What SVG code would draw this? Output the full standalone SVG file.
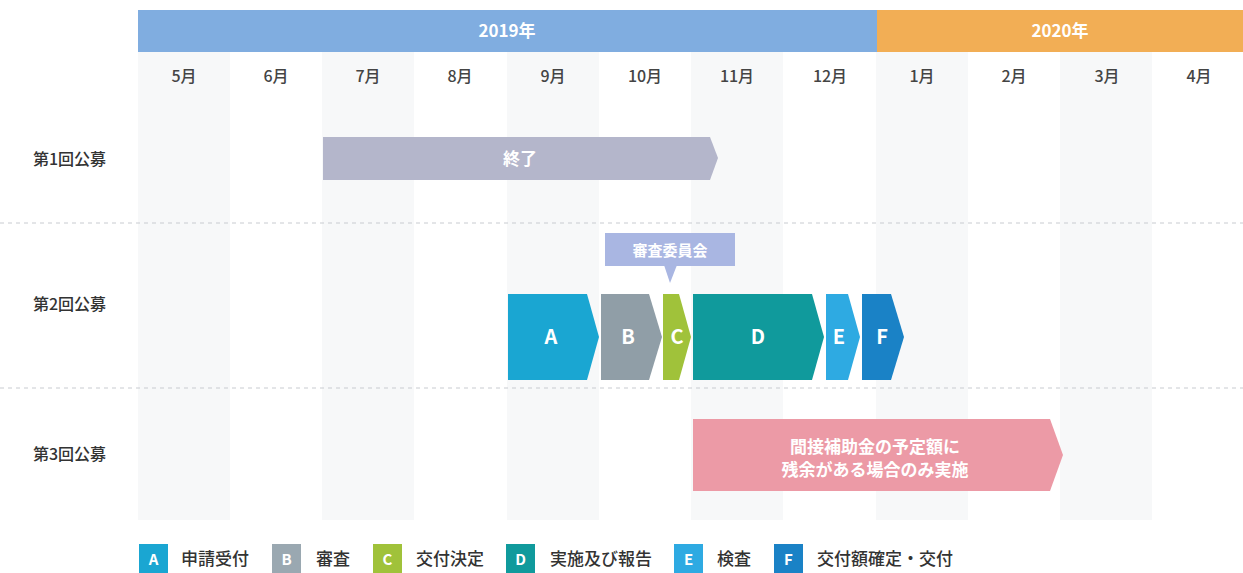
<svg xmlns="http://www.w3.org/2000/svg" width="1243" height="573" viewBox="0 0 1243 573">
<style>
text{font-family:"Noto Sans CJK JP","Noto Sans",sans-serif}
.yr{fill:#fff;font-size:17px;font-weight:700;text-anchor:middle}
.mo{fill:#444;font-size:16px;font-weight:500;text-anchor:middle}
.row{fill:#333;font-size:16px;font-weight:500}
.wl{fill:#fff;font-weight:700;text-anchor:middle}
.lg{fill:#333;font-size:17px;font-weight:500}
.lk{fill:#fff;font-size:15px;font-weight:700;text-anchor:middle}
.shade{fill:#f7f8f9}
.sep{stroke:#c8cbd0;stroke-width:1;stroke-dasharray:4 4}
</style>
<rect width="1243" height="573" fill="#fff"/>
<g id="columns">
<rect class="shade" x="138" y="52" width="92" height="468"/>
<rect class="shade" x="322" y="52" width="92" height="468"/>
<rect class="shade" x="507" y="52" width="92" height="468"/>
<rect class="shade" x="691" y="52" width="92" height="468"/>
<rect class="shade" x="876" y="52" width="92" height="468"/>
<rect class="shade" x="1060" y="52" width="92" height="468"/>
</g>
<g id="years">
<rect x="138" y="10" width="739" height="42" fill="#80ade0"/>
<rect x="877" y="10" width="366" height="42" fill="#f2ae55"/>
<text class="yr" x="507" y="37">2019年</text>
<text class="yr" x="1060" y="37">2020年</text>
</g>
<g id="months">
<text class="mo" x="184" y="82">5月</text>
<text class="mo" x="276" y="82">6月</text>
<text class="mo" x="368" y="82">7月</text>
<text class="mo" x="460" y="82">8月</text>
<text class="mo" x="553" y="82">9月</text>
<text class="mo" x="645" y="82">10月</text>
<text class="mo" x="737" y="82">11月</text>
<text class="mo" x="830" y="82">12月</text>
<text class="mo" x="922" y="82">1月</text>
<text class="mo" x="1014" y="82">2月</text>
<text class="mo" x="1107" y="82">3月</text>
<text class="mo" x="1199" y="82">4月</text>
</g>
<g id="separators">
<line class="sep" x1="0" y1="223" x2="1243" y2="223"/>
<line class="sep" x1="0" y1="388" x2="1243" y2="388"/>
</g>
<g id="row-labels">
<text class="row" x="33" y="165">第1回公募</text>
<text class="row" x="33" y="310">第2回公募</text>
<text class="row" x="33" y="460">第3回公募</text>
</g>
<g id="round1">
<polygon points="323,137 710,137 718,158 710,180 323,180" fill="#b4b6cb"/>
<text class="wl" x="520" y="165" font-size="17">終了</text>
</g>
<g id="callout">
<rect x="605" y="233" width="130" height="33" fill="#a9b6e2"/>
<polygon points="664,265 677,265 670,283" fill="#a9b6e2"/>
<text class="wl" x="670" y="256" font-size="15">審査委員会</text>
</g>
<g id="stepA">
<polygon points="508,294 587,294 599,337 587,380 508,380" fill="#1aa6d2"/>
<text class="wl" x="551" y="344" font-size="20">A</text>
</g>
<g id="stepB">
<polygon points="601,294 649,294 662,337 649,380 601,380" fill="#909ea7"/>
<text class="wl" x="628" y="344" font-size="20">B</text>
</g>
<g id="stepC">
<polygon points="663,294 679,294 691,337 679,380 663,380" fill="#a0c23a"/>
<text class="wl" x="677" y="344" font-size="20">C</text>
</g>
<g id="stepD">
<polygon points="693,294 812,294 824,337 812,380 693,380" fill="#109a9c"/>
<text class="wl" x="758" y="344" font-size="20">D</text>
</g>
<g id="stepE">
<polygon points="826,294 848,294 860,337 848,380 826,380" fill="#2eaae2"/>
<text class="wl" x="839" y="344" font-size="20">E</text>
</g>
<g id="stepF">
<polygon points="862,294 891,294 904,337 891,380 862,380" fill="#1a82c6"/>
<text class="wl" x="882" y="344" font-size="20">F</text>
</g>
<g id="round3">
<polygon points="693,419 1050,419 1063,455 1050,491 693,491" fill="#ec9aa6"/>
<text class="wl" x="875" y="453" font-size="17">間接補助金の予定額に</text>
<text class="wl" x="875" y="476" font-size="17">残余がある場合のみ実施</text>
</g>
<g id="legend">
<rect x="139" y="544" width="29" height="29" fill="#1aa6d2"/>
<text class="lk" x="153.5" y="565">A</text>
<text class="lg" x="181" y="565">申請受付</text>
<rect x="272" y="544" width="29" height="29" fill="#9aa8b1"/>
<text class="lk" x="286.5" y="565">B</text>
<text class="lg" x="316" y="565">審査</text>
<rect x="373" y="544" width="29" height="29" fill="#a0c23a"/>
<text class="lk" x="387.5" y="565">C</text>
<text class="lg" x="416" y="565">交付決定</text>
<rect x="506" y="544" width="29" height="29" fill="#109a9c"/>
<text class="lk" x="520.5" y="565">D</text>
<text class="lg" x="550" y="565">実施及び報告</text>
<rect x="674" y="544" width="29" height="29" fill="#2eaae2"/>
<text class="lk" x="688.5" y="565">E</text>
<text class="lg" x="717" y="565">検査</text>
<rect x="774" y="544" width="29" height="29" fill="#1a82c6"/>
<text class="lk" x="788.5" y="565">F</text>
<text class="lg" x="817" y="565">交付額確定・交付</text>
</g>
</svg>
